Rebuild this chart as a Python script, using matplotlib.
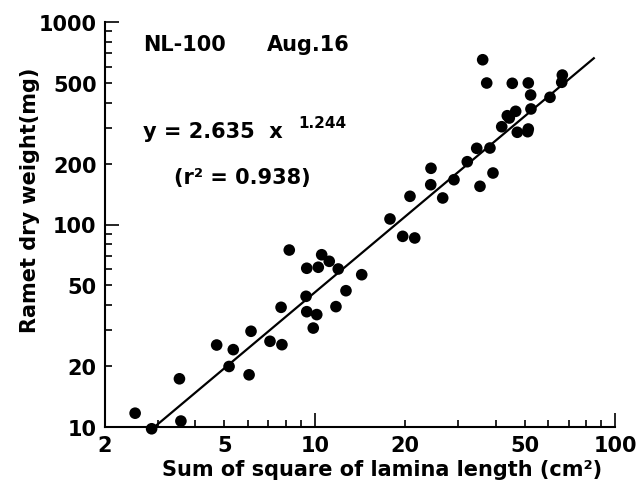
import numpy as np
import matplotlib
matplotlib.use("Agg")
import matplotlib.pyplot as plt
from matplotlib.ticker import FixedLocator, FuncFormatter

# Sum of squared lamina length (cm^2) and ramet dry weight (mg)
lamina_sq_sum = [2.52, 2.86, 3.58, 3.54, 4.71, 5.18, 5.35, 6.04, 6.13, 7.09,
                 7.77, 7.72, 8.22, 9.35, 9.40, 9.40, 9.88, 10.15, 10.27, 10.54,
                 11.17, 11.97, 11.76, 12.70, 14.33, 17.80, 19.62, 21.52, 20.75, 24.38,
                 24.33, 26.67, 29.08, 32.20, 34.62, 35.50, 38.32, 39.22, 36.24, 37.38,
                 45.48, 51.42, 66.76, 66.45, 52.36, 60.74, 52.48, 46.68, 43.77, 44.45,
                 41.94, 47.26, 51.42, 51.18]
ramet_dry_weight = [11.7, 9.8, 10.7, 17.3, 25.4, 19.9, 24.1, 18.1, 29.7, 26.5,
                    25.5, 39.0, 74.8, 44.2, 37.1, 60.8, 30.8, 35.9, 61.5, 70.9,
                    65.8, 60.3, 39.3, 47.1, 56.5, 106.5, 87.4, 85.8, 137.8, 189.5,
                    157.2, 135.2, 166.4, 204.2, 237.8, 154.4, 238.6, 179.6, 651.0, 499.7,
                    498.0, 500.0, 547.0, 503.8, 436.0, 424.7, 372.0, 362.2, 344.5, 335.6,
                    304.0, 285.4, 296.2, 287.3]

# Allometric fit y = a * x^b
coef_a = 2.635
exponent_b = 1.244
r_squared = 0.938
fit_x_range = [2.92, 85.0]

x_major = [10, 100]
x_minor = [2, 3, 4, 5, 6, 7, 8, 9, 20, 30, 40, 50, 60, 70, 80, 90]
x_labelled = [2, 5, 10, 20, 50, 100]
y_major = [10, 100, 1000]
y_minor = [20, 30, 40, 50, 60, 70, 80, 90, 200, 300, 400, 500, 600, 700, 800, 900]
y_labelled = [10, 20, 50, 100, 200, 500, 1000]

plt.rcParams['font.family'] = ['DejaVu Sans']
plt.rcParams['font.weight'] = 'bold'

W, H = 642, 489
fig = plt.figure(figsize=(W / 100, H / 100), dpi=100)
ax = fig.add_axes([105 / W, 1 - 428 / H, 510 / W, 405 / H])

ax.set_xscale('log')
ax.set_yscale('log')
ax.set_xlim(2, 100)
ax.set_ylim(10, 1000)

ax.scatter(lamina_sq_sum, ramet_dry_weight, s=70, color='black',
           edgecolors='none', zorder=3, clip_on=False)

fx = np.geomspace(fit_x_range[0], fit_x_range[1], 100)
ax.plot(fx, coef_a * fx ** exponent_b, color='black', lw=1.6, zorder=2,
        clip_on=False)

for side in ('top', 'right'):
    ax.spines[side].set_visible(False)
for side in ('left', 'bottom'):
    ax.spines[side].set_linewidth(1.5)


def make_fmt(keep):
    return FuncFormatter(lambda v, p: f"{v:g}" if any(abs(v - k) < 1e-6 for k in keep) else "")


ax.xaxis.set_major_locator(FixedLocator(x_major))
ax.xaxis.set_minor_locator(FixedLocator(x_minor))
ax.yaxis.set_major_locator(FixedLocator(y_major))
ax.yaxis.set_minor_locator(FixedLocator(y_minor))
for axis, keep in ((ax.xaxis, x_labelled), (ax.yaxis, y_labelled)):
    axis.set_major_formatter(make_fmt(keep))
    axis.set_minor_formatter(make_fmt(keep))

ax.tick_params(which='both', direction='in', width=1.2, labelsize=15)
ax.tick_params(which='major', length=10)
ax.tick_params(which='minor', length=5)
ax.tick_params(axis='x', which='both', pad=6)
ax.tick_params(axis='y', which='both', pad=6)

txt = dict(fontsize=15, fontweight='bold', color='black')
fig.text(143 / W, 1 - 45 / H, "NL-100", va='center', ha='left', **txt)
fig.text(267 / W, 1 - 45 / H, "Aug.16", va='center', ha='left', **txt)
fig.text(143 / W, 1 - 132 / H, "y = 2.635  x", va='center', ha='left', **txt)
fig.text(298 / W, 1 - 124 / H, "1.244", va='center', ha='left',
         fontsize=11, fontweight='bold')
fig.text(174 / W, 1 - 178 / H, "(r² = 0.938)", va='center', ha='left', **txt)

fig.text(30 / W, 1 - 200 / H, "Ramet dry weight(mg)", rotation=90,
         va='center', ha='center', **txt)
fig.text(382 / W, 1 - 470 / H, "Sum of square of lamina length (cm²)",
         va='center', ha='center', **txt)

fig.savefig("out.png", dpi=100)
